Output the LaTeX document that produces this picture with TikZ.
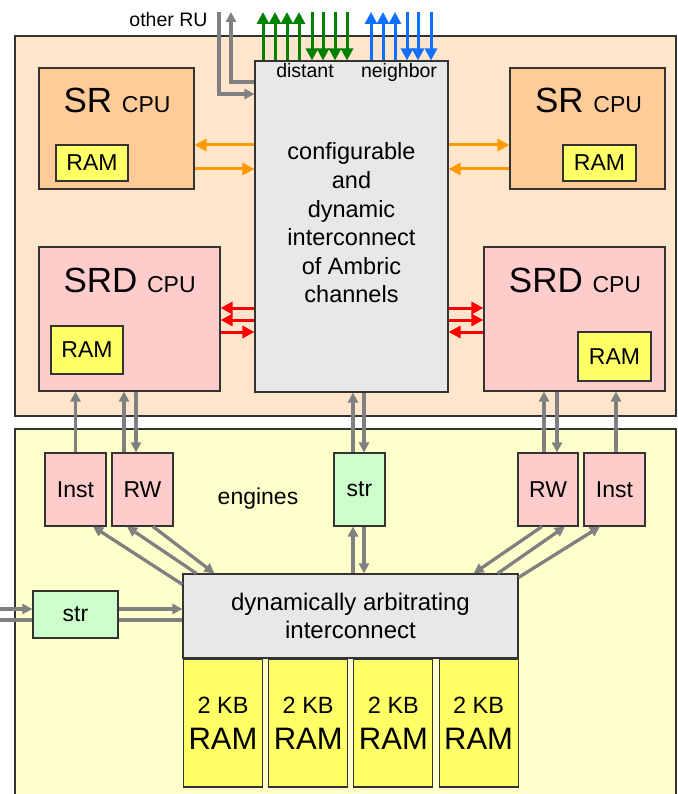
\documentclass[tikz,border=0pt]{standalone}
\usepackage{fontspec}
\setmainfont{Liberation Sans}
\usetikzlibrary{arrows.meta}
\definecolor{rupeach}{RGB}{255,229,204}
\definecolor{rusr}{RGB}{255,204,153}
\definecolor{rusrd}{RGB}{255,204,204}
\definecolor{ruram}{RGB}{255,255,102}
\definecolor{rugray}{RGB}{232,232,232}
\definecolor{ruyellow}{RGB}{255,255,204}
\definecolor{rustr}{RGB}{204,255,204}
\definecolor{ruorange}{RGB}{255,153,0}
\definecolor{rugreen}{RGB}{0,128,0}
\definecolor{rublue}{RGB}{17,111,255}
\definecolor{ruarrow}{RGB}{128,128,128}
\definecolor{ruedge}{RGB}{51,51,51}
\newcommand{\cpusmall}{\fontsize{23}{28}\selectfont}

\begin{document}
\begin{tikzpicture}[x=1pt,y=-1pt,
  box/.style={draw=ruedge, line width=1.1pt, inner sep=0pt},
  garr/.style={-{Triangle[length=10pt,width=10pt]}, line width=3.3pt, ruarrow},
  gline/.style={line width=3.3pt, ruarrow},
  carr/.style={-{Triangle[length=12pt,width=12pt]}, line width=3pt},
  cpulbl/.style={font=\fontsize{35}{42}\selectfont, anchor=base},
  lbl/.style={font=\fontsize{19.5}{23}\selectfont}]
\useasboundingbox (0,0) rectangle (677,794);
% Top: reconfigurable unit
\draw[box, fill=rupeach] (15,36) rectangle (676,416);
% Bottom: engines area
\draw[box, fill=ruyellow] (15,429) rectangle (676,830);

\node[box, fill=rugray, minimum width=193pt, minimum height=331pt] (cic) at (351.5,226.5) {};
\node[align=center, font=\fontsize{23.5}{28.6}\selectfont] (cictext) at (351.5,223) {configurable\\and\\dynamic\\interconnect\\of Ambric\\channels};

\node[box, fill=rusr, minimum width=155pt, minimum height=121pt] (srL) at (116.5,128.5) {};
\node[box, fill=ruram, minimum width=72pt, minimum height=36pt, font=\cpusmall] (ramSL) at (92,163) {RAM};
\node[cpulbl] (srLtext) at (117,112.7) {SR {\cpusmall CPU}};
\node[box, fill=rusr, minimum width=155pt, minimum height=121pt] (srR) at (587.5,128.5) {};
\node[box, fill=ruram, minimum width=73pt, minimum height=36pt, font=\cpusmall] (ramSR) at (599.5,163) {RAM};
\node[cpulbl] (srRtext) at (588.5,112.7) {SR {\cpusmall CPU}};

\node[box, fill=rusrd, minimum width=181pt, minimum height=144pt] (srdL) at (129.5,319) {};
\node[box, fill=ruram, minimum width=72pt, minimum height=48pt, font=\cpusmall] (ramDL) at (87,350) {RAM};
\node[cpulbl] (srdLtext) at (129.6,292.7) {SRD {\cpusmall CPU}};
\node[box, fill=rusrd, minimum width=181pt, minimum height=144pt] (srdR) at (574.5,319) {};
\node[box, fill=ruram, minimum width=73pt, minimum height=49pt, font=\cpusmall] (ramDR) at (614.5,356.5) {RAM};
\node[cpulbl] (srdRtext) at (575,292.7) {SRD {\cpusmall CPU}};

% channels to neighbors
\coordinate (topedge) at (0,12);
\coordinate (ruout) at (219,12);
\coordinate (ruin) at (231,12);
\node[lbl, anchor=base east] (otherru) at (211,27) {other RU};
\draw[garr] (ruout) |- (cic.west |- 0,94);
\draw[garr] (cic.west |- 0,82) -| (ruin);
\foreach \x in {263,275,287,299} \draw[carr, rugreen] (cic.north -| \x,0) -- (topedge -| \x,0);
\foreach \x in {312,323,335,347} \draw[carr, rugreen] (topedge -| \x,0) -- (cic.north -| \x,0);
\foreach \x in {371,383,395} \draw[carr, rublue] (cic.north -| \x,0) -- (topedge -| \x,0);
\foreach \x in {407,418,431} \draw[carr, rublue] (topedge -| \x,0) -- (cic.north -| \x,0);
\node[lbl, anchor=base] (distant) at (305,78) {distant};
\node[lbl, anchor=base] (neighbor) at (399,78) {neighbor};

% SR / SRD links
\draw[carr, ruorange] (cic.west |- 0,145) -- (srL.east |- 0,145);
\draw[carr, ruorange] (srL.east |- 0,169) -- (cic.west |- 0,169);
\draw[carr, ruorange] (cic.east |- 0,145) -- (srR.west |- 0,145);
\draw[carr, ruorange] (srR.west |- 0,169) -- (cic.east |- 0,169);
\draw[carr, red] (cic.west |- 0,308) -- (srdL.east |- 0,308);
\draw[carr, red] (cic.west |- 0,320) -- (srdL.east |- 0,320);
\draw[carr, red] (srdL.east |- 0,332) -- (cic.west |- 0,332);
\draw[carr, red] (cic.east |- 0,308) -- (srdR.west |- 0,308);
\draw[carr, red] (cic.east |- 0,320) -- (srdR.west |- 0,320);
\draw[carr, red] (srdR.west |- 0,332) -- (cic.east |- 0,332);

% engines
\node[box, fill=rusrd, minimum width=61pt, minimum height=73pt, font=\cpusmall] (instL) at (75.5,489.5) {Inst};
\node[box, fill=rusrd, minimum width=61pt, minimum height=73pt, font=\cpusmall] (rwL) at (142.5,489.5) {RW};
\node[box, fill=rustr, minimum width=51pt, minimum height=73pt, font=\cpusmall] (strM) at (359.5,489.5) {str};
\node[box, fill=rusrd, minimum width=60pt, minimum height=73pt, font=\cpusmall] (rwR) at (548,489.5) {RW};
\node[box, fill=rusrd, minimum width=61pt, minimum height=73pt, font=\cpusmall] (instR) at (614.5,489.5) {Inst};
\node[anchor=base, font=\fontsize{23}{28}\selectfont] (engines) at (258,504) {engines};
\node[box, fill=rugray, minimum width=335pt, minimum height=84pt, align=center, font=\fontsize{24}{28}\selectfont] (arb) at (350.5,616) {dynamically arbitrating\\interconnect};
\node[box, fill=rustr, minimum width=85pt, minimum height=47pt, font=\cpusmall] (strL) at (75.5,614.5) {str};
\foreach \i in {0,...,3}
  \node[box, fill=ruram, minimum width=79pt, minimum height=128pt, align=center, font=\fontsize{31}{36}\selectfont] (kb\i) at (223+85.2*\i,723) {{\fontsize{23.5}{36}\selectfont 2 KB}\\RAM};

% engine links
\draw[garr] (instL.north) -- (instL.north |- srdL.south);
\draw[garr] ([xshift=-18.5pt]rwL.north) -- ([xshift=-18.5pt]rwL.north |- srdL.south);
\draw[garr] ([xshift=-6.5pt]rwL.north |- srdL.south) -- ([xshift=-6.5pt]rwL.north);
\draw[garr] ([xshift=-6.5pt]strM.north) -- ([xshift=-6.5pt]strM.north |- cic.south);
\draw[garr] ([xshift=4.5pt]strM.north |- cic.south) -- ([xshift=4.5pt]strM.north);
\draw[garr] ([xshift=-6.5pt]arb.north -| strM.south) -- ([xshift=-6.5pt]strM.south);
\draw[garr] ([xshift=4.5pt]strM.south) -- ([xshift=4.5pt]arb.north -| strM.south);
\draw[garr] ([xshift=-4pt]rwR.north) -- ([xshift=-4pt]rwR.north |- srdR.south);
\draw[garr] ([xshift=9pt]rwR.north |- srdR.south) -- ([xshift=9pt]rwR.north);
\draw[garr] ([xshift=1.5pt]instR.north) -- ([xshift=1.5pt]instR.north |- srdR.south);
\draw[garr] ([yshift=-11pt]arb.north west) -- ([xshift=17.5pt]instL.south);
\draw[garr] ([xshift=14pt]arb.north west) -- ([xshift=-15.5pt]rwL.south);
\draw[garr] ([xshift=10.5pt]rwL.south) -- ([xshift=32pt]arb.north west);
\draw[garr] ([xshift=-6pt]rwR.south) -- ([xshift=-45pt]arb.north east);
\draw[garr] ([xshift=-21pt]arb.north east) -- ([xshift=17pt]rwR.south);
\draw[garr] ([yshift=-4pt]arb.north east) -- ([xshift=-14.5pt]instR.south);
\coordinate (lin) at (0,609);
\coordinate (lout) at (0,620);
\draw[garr] (lin) -- (strL.west |- lin);
\draw[garr] (strL.east |- lin) -- (arb.west |- lin);
\draw[gline] (arb.west |- lout) -- (strL.east |- lout);
\draw[gline] (strL.west |- lout) -- (lout);
\end{tikzpicture}
\end{document}
